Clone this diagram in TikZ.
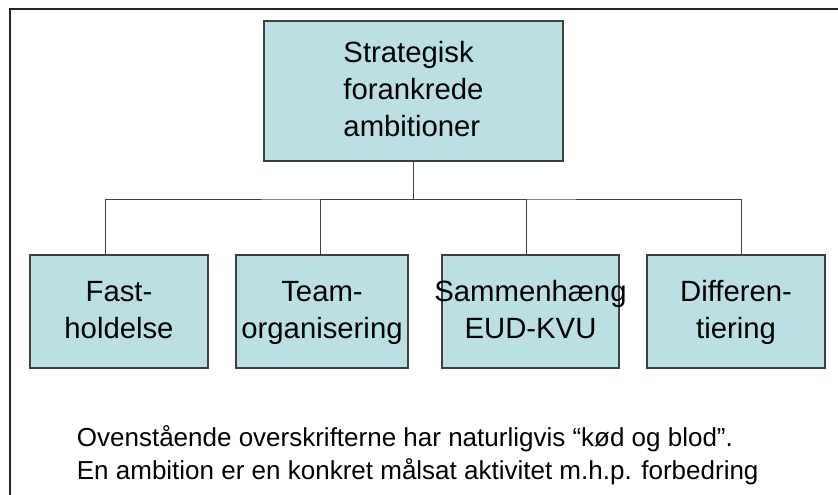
\documentclass[tikz,border=0pt]{standalone}
\usepackage{fontspec}
\setmainfont{Liberation Sans}
\definecolor{boxfill}{HTML}{BBE0E3}
\definecolor{boxline}{HTML}{404040}
\newcommand{\upstrut}{\rule[-6.5pt]{0pt}{30.2pt}}
\tikzset{
  orgbox/.style={draw=boxline, line width=1.2pt, fill=boxfill, inner sep=0pt,
    align=center, font=\fontsize{29.3}{36.7}\selectfont},
  link/.style={draw=boxline, line width=1pt},
  frame/.style={draw=black!85, line width=2pt},
}
\begin{document}
\begin{tikzpicture}[x=1pt,y=-1pt]
  \useasboundingbox (0,0) rectangle (838,495);
  \begin{scope}
    \clip (0,0) rectangle (838,495);
    % outer frame, running past the right and lower edges
    \draw[frame] (9.5,9.5) rectangle (900,600);
  \end{scope}

  % top level
  \node[orgbox, minimum width=299pt, minimum height=140pt, align=left]
    (top) at (413.5,91) {\upstrut Strategisk\\forankrede\\ambitioner\upstrut};

  % second level
  \node[orgbox, minimum width=178pt, minimum height=113pt]
    (b1) at (119,311.5) {\upstrut Fast-\\holdelse\upstrut};
  \node[orgbox, minimum width=172pt, minimum height=113pt]
    (b2) at (322,311.5) {\upstrut Team-\\organisering\upstrut};
  \node[orgbox, minimum width=177pt, minimum height=113pt]
    (b3) at (530.5,311.5) {\upstrut\makebox[0pt]{Sammenhæng}\\EUD-KVU\upstrut};
  \node[orgbox, minimum width=178pt, minimum height=113pt]
    (b4) at (736,311.5) {\upstrut Differen-\\tiering\upstrut};

  % connectors
  \coordinate (hub) at (413.5,199);
  \draw[link] (top.south) -- (hub);
  \draw[link] ([xshift=-14pt]b1.north) |- (hub) -| ([xshift=5pt]b4.north);
  \draw[link] ([xshift=-2pt]b2.north) |- (hub);
  \draw[link] ([xshift=-4.5pt]b3.north) |- (hub);

  % note below the chart
  \node[anchor=north west, inner sep=0pt, align=left,
        font=\fontsize{26}{32.7}\selectfont]
    (note) at (76.7,420.7)
    {\rule{0pt}{26pt}Ovenstående overskrifterne har naturligvis “kød og blod”.\\
     En ambition er en konkret målsat aktivitet m.h.p. forbedring};
\end{tikzpicture}
\end{document}
